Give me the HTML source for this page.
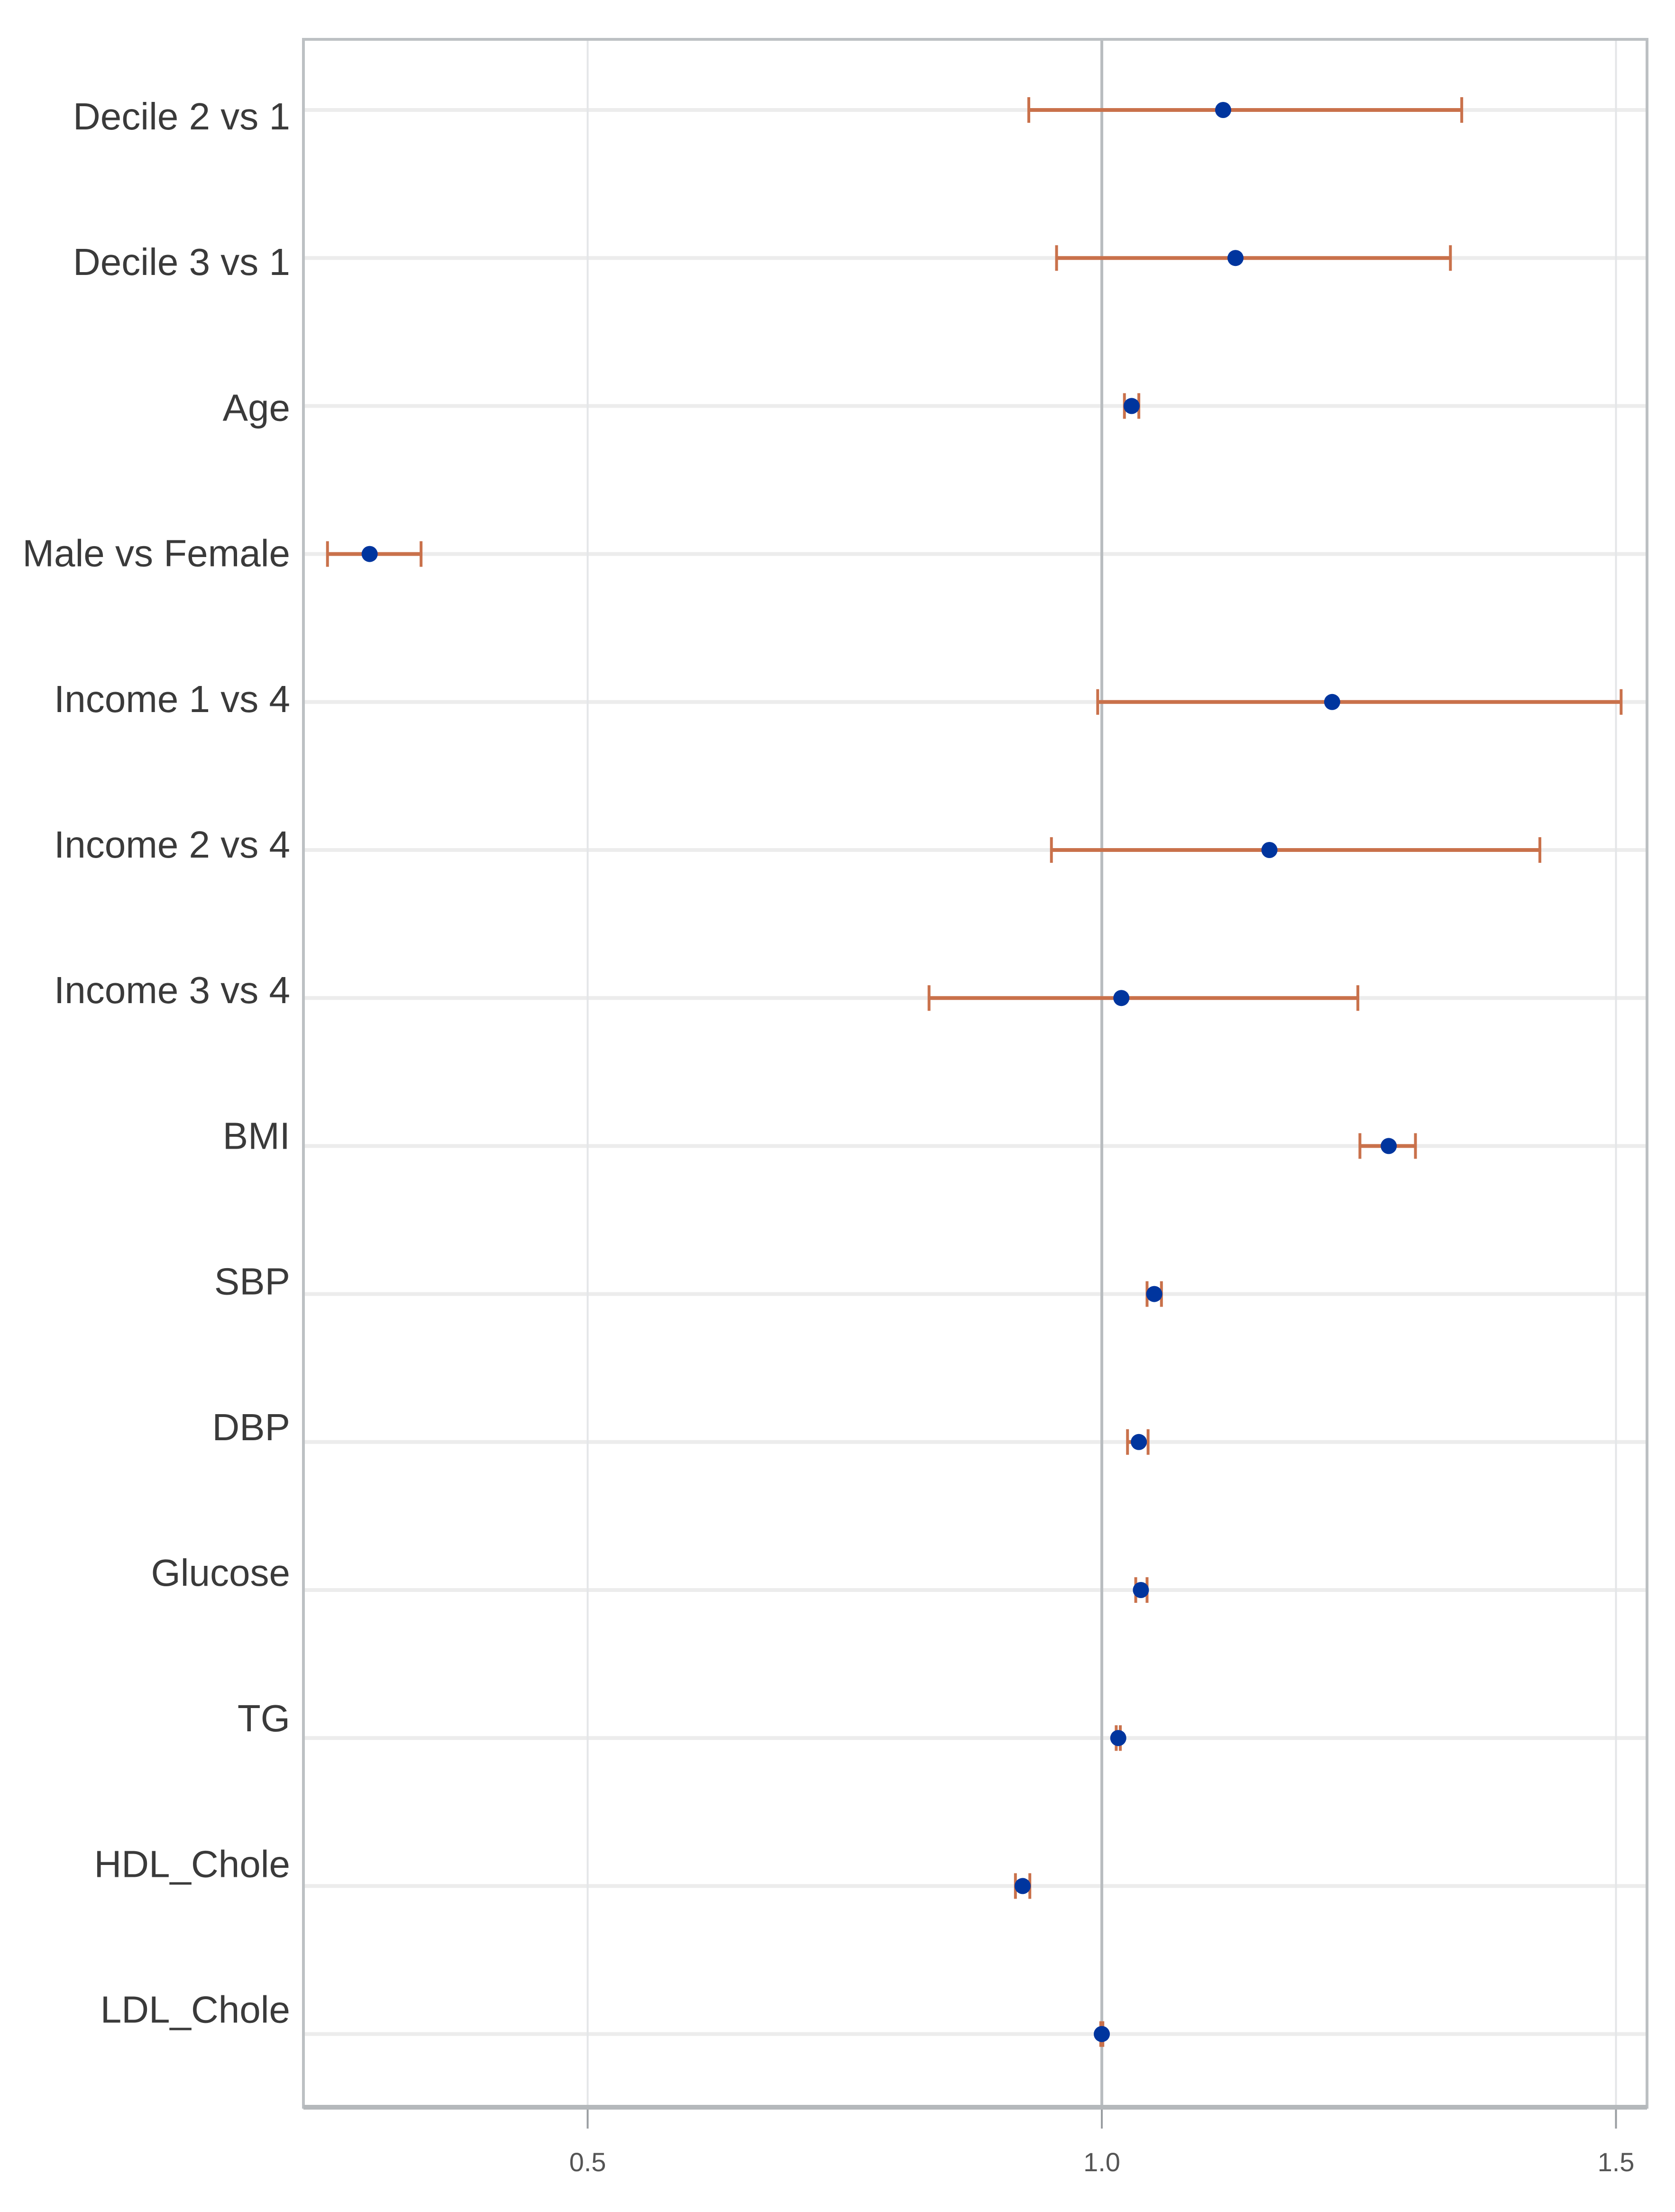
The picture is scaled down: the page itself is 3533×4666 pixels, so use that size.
<!DOCTYPE html>
<html><head><meta charset="utf-8"><style>
html,body{margin:0;padding:0;background:#fff;}
svg{display:block;}
text{font-family:"Liberation Sans",sans-serif;}
</style></head><body>
<svg id="chart" width="3533" height="4666" viewBox="0 0 3533 4666" xmlns="http://www.w3.org/2000/svg"></svg>
<script>
const categories=["Decile 2 vs 1","Decile 3 vs 1","Age","Male vs Female","Income 1 vs 4","Income 2 vs 4","Income 3 vs 4","BMI","SBP","DBP","Glucose","TG","HDL_Chole","LDL_Chole"];
const estimates=[1.118,1.130,1.029,0.288,1.224,1.163,1.019,1.279,1.051,1.036,1.038,1.016,0.923,1.000];
const lowers=[0.929,0.956,1.022,0.247,0.996,0.951,0.832,1.251,1.044,1.025,1.033,1.014,0.916,0.999];
const uppers=[1.350,1.339,1.036,0.338,1.505,1.426,1.249,1.305,1.058,1.045,1.044,1.018,0.930,1.001];
const xTicks=[0.5,1.0,1.5];
const xTickLabels=["0.5","1.0","1.5"];

const NS="http://www.w3.org/2000/svg";
const svg=document.getElementById('chart');
const L=640,R=3474,T=83,B=4445;
function xs(v){return 2324+(v-1)*2169;}
function ys(i){return 232+i*312.2;}
function labY(i){return 244+i*307.2;}
function mk(tag,attrs,parent){const e=document.createElementNS(NS,tag);for(const k in attrs)e.setAttribute(k,attrs[k]);(parent||svg).appendChild(e);return e;}

categories.forEach((c,i)=>{
  const g=mk('line',{x1:L,x2:R,y1:ys(i),y2:ys(i),stroke:'#ececec','stroke-width':8});
  
  
});
xTicks.forEach((t,i)=>{
  const g=mk('line',{x1:xs(t),x2:xs(t),y1:T,y2:B,stroke:t===1?'#b9bdc0':'#e4e6e8','stroke-width':t===1?6:4});
  
  
  const tk=mk('line',{x1:xs(t),x2:xs(t),y1:B,y2:B+45,stroke:'#9a9ea2','stroke-width':4});
  
  
  const tl=mk('text',{x:xs(t),y:B+135,'text-anchor':'middle','font-size':56,fill:'#555'});
  tl.textContent=xTickLabels[i];
  
  
});
const fr=mk('rect',{x:L,y:T,width:R-L,height:B-T,fill:'none',stroke:'#bcc0c3','stroke-width':6});


const bl=mk('line',{x1:L,x2:R,y1:B,y2:B,stroke:'#b4b8bb','stroke-width':10});



categories.forEach((c,i)=>{
  const y=ys(i);
  const lab=mk('text',{x:612,y:labY(i)+29,'text-anchor':'end','font-size':80,fill:'#3a3a3a'});
  lab.textContent=c;
  
  
  const g=mk('g',{});
  
  
  const x1=xs(lowers[i]),x2=xs(uppers[i]);
  const eb=mk('line',{x1:x1,x2:x2,y1:y,y2:y,stroke:'#c9714b','stroke-width':8},g);
  
  
  [x1,x2].forEach(x=>{
    const cp=mk('line',{x1:x,x2:x,y1:y-27,y2:y+27,stroke:'#c9714b','stroke-width':6},g);
    
    
  });
  const d=mk('circle',{cx:xs(estimates[i]),cy:y,r:17,fill:'#00359e'},g);
  
  
});
</script>
</body></html>
